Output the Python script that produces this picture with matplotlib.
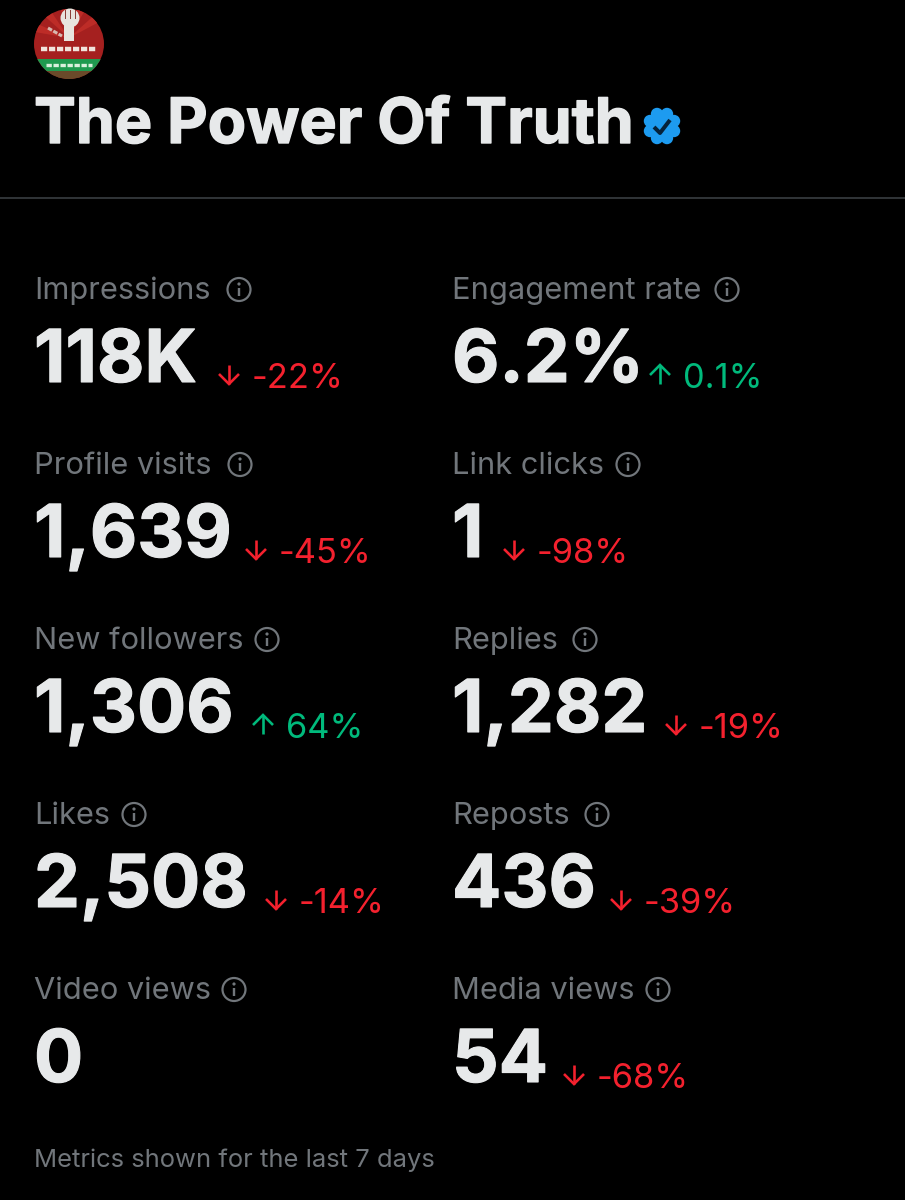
import numpy as np
import matplotlib
matplotlib.use("Agg")
import matplotlib.pyplot as plt
import matplotlib.patheffects as pe
from matplotlib.patches import Circle, Rectangle, Wedge

# ---- data ----
title = "The Power Of Truth"
labels_left = ["Impressions", "Profile visits", "New followers", "Likes", "Video views"]
values_left = ["118K", "1,639", "1,306", "2,508", "0"]
deltas_left = ["-22%", "-45%", "64%", "-14%", None]
labels_right = ["Engagement rate", "Link clicks", "Replies", "Reposts", "Media views"]
values_right = ["6.2%", "1", "1,282", "436", "54"]
deltas_right = ["0.1%", "-98%", "-19%", "-39%", "-68%"]
footer = "Metrics shown for the last 7 days"

# ---- layout (pixel positions of icons and arrows, per row) ----
icon_x_left = [239, 240, 267, 134, 234]
icon_x_right = [727, 628, 585, 597, 658]
arrow_x_left = [229, 256, 263, 276, None]
arrow_x_right = [660, 514, 676, 621, 574]

# ---- style ----
BG = "#000000"; TXT = "#e7e9ea"; MUTED = "#71767b"; RED = "#f4212e"; GREEN = "#00ba7c"
BLUE = "#1d9bf0"; RULE = "#2f3336"
FONT = "Inter"
W, H = 905, 1200
px = 72 / 100  # points per pixel

fig = plt.figure(figsize=(W / 100, H / 100), dpi=100, facecolor=BG)
ax = fig.add_axes([0, 0, 1, 1], facecolor=BG)
ax.set_xlim(0, W); ax.set_ylim(H, 0); ax.axis("off")

def put(x, y, s, size, color, weight="normal", thicken=0):
    t = ax.text(x, y, s, fontsize=size * px, color=color, fontweight=weight,
                family=FONT, ha="left", va="baseline")
    if thicken:
        t.set_path_effects([pe.withStroke(linewidth=thicken, foreground=color)])
    return t

# avatar
cx, cy, r = 69, 44, 35
disc = Circle((cx, cy), r, fc="#a5201f", ec="none", zorder=2); ax.add_patch(disc)
for a0 in range(190, 350, 32):
    w = Wedge((cx, cy - 6), r + 8, a0, a0 + 14, fc="#bd2c27", ec="none", zorder=2.1)
    ax.add_patch(w); w.set_clip_path(disc)
band = Rectangle((cx - r, 59), 2 * r, 12, fc="#1f9a4f", ec="none", zorder=2.2); ax.add_patch(band); band.set_clip_path(disc)
low = Rectangle((cx - r, 71), 2 * r, 10, fc="#6a4a2a", ec="none", zorder=2.2); ax.add_patch(low); low.set_clip_path(disc)
ax.add_patch(Circle((cx + 1, 18), 9.5, fc="#e8e4de", ec="none", zorder=3))
ax.add_patch(Rectangle((cx - 5, 24), 10, 17, fc="#e8e4de", ec="none", zorder=3))
for k in range(3):
    ax.plot([cx - 4 + 5 * k] * 2, [10, 18], color="#8a3a33", lw=0.7, zorder=3.1)
ax.plot([48, 62], [28, 36], color="#d8b8b0", lw=2.2, zorder=3, ls=(0, (1.5, 0.5)))
ax.plot([41, 96], [49, 49], color="#f1e3dc", lw=3.2, zorder=3, ls=(0, (1.4, 0.4)))
ax.plot([46, 92], [65, 65], color="#d9f0dc", lw=2.4, zorder=3, ls=(0, (1.6, 0.5)))

# title + badge
put(34, 143, title, 62.7, TXT, "bold", thicken=1.0)
bx, by = 662, 126
ang = np.linspace(0, 2 * np.pi, 8, endpoint=False) + np.pi / 8
for a in ang:
    ax.add_patch(Circle((bx + 13 * np.cos(a), by + 13 * np.sin(a)), 6.2, fc=BLUE, ec="none", zorder=3))
ax.add_patch(Circle((bx, by), 14, fc=BLUE, ec="none", zorder=3))
ax.plot([bx - 8, bx - 2, bx + 8], [by + 1, by + 7, by - 6], color="#06223a", lw=4 * px, zorder=4, solid_capstyle="butt")

ax.plot([0, W], [198, 198], color=RULE, lw=2 * px)

def info(x, yc):
    ax.add_patch(Circle((x, yc), 11.5, fc="none", ec=MUTED, lw=2.2 * px))
    ax.plot([x, x], [yc - 1.5, yc + 6.5], color=MUTED, lw=2.4 * px, solid_capstyle="butt")
    ax.add_patch(Circle((x, yc - 5.5), 1.6, fc=MUTED, ec="none"))

def arrow(x, base, delta):
    up = not delta.startswith("-")
    c = GREEN if up else RED
    top, bot = base - 23, base - 4
    tip, tail = (top, bot) if up else (bot, top)
    d = 10 if up else -10
    ax.plot([x, x], [tail, tip], color=c, lw=2.6 * px, solid_capstyle="butt")
    ax.plot([x - 10, x, x + 10], [tip + d, tip, tip + d], color=c, lw=2.6 * px,
            solid_joinstyle="miter", solid_capstyle="butt")
    return c

def column(x0, labels, values, deltas, icons, arrows):
    for i, (lab, val, dlt, ix, ax_x) in enumerate(zip(labels, values, deltas, icons, arrows)):
        dy = 175 * i
        put(x0, 299 + dy, lab, 30.8, MUTED)
        info(ix, 289.5 + dy)
        put(x0, 382 + dy, val, 73, TXT, "bold", thicken=0.8)
        if dlt is not None:
            c = arrow(ax_x, 388 + dy, dlt)
            put(ax_x + 23, 388 + dy, dlt, 34.5, c)

column(34, labels_left, values_left, deltas_left, icon_x_left, arrow_x_left)
column(452, labels_right, values_right, deltas_right, icon_x_right, arrow_x_right)
put(34, 1167, footer, 25.6, MUTED)

fig.savefig("out.png", dpi=100, facecolor=BG)
